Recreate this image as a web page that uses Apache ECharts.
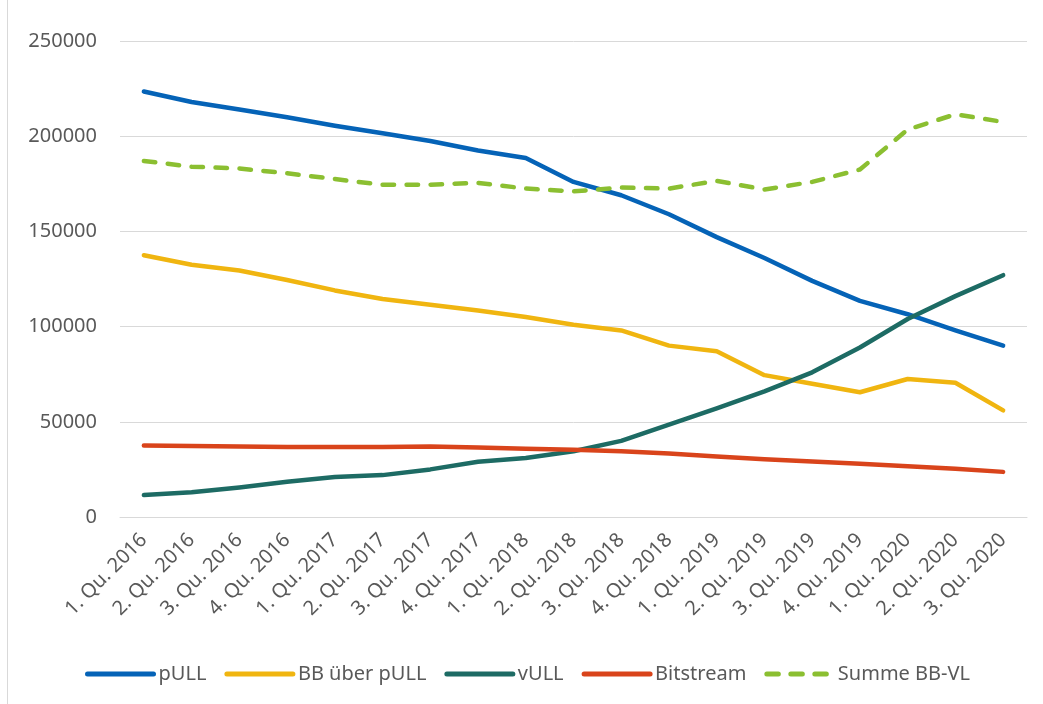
<!DOCTYPE html>
<html>
<head>
<meta charset="utf-8">
<script src="https://cdn.jsdelivr.net/npm/echarts@6/dist/echarts.min.js"></script>
<style>
html,body{margin:0;padding:0;background:#fff;}
body{position:relative;}
#chart{width:1043px;height:704px;}
#frame{position:absolute;left:7px;top:0;width:1px;height:704px;background:#d9d9d9;}
</style>
</head>
<body>
<div id="chart"></div>
<div id="frame"></div>
<script>
var quarters = ["1. Qu. 2016","2. Qu. 2016","3. Qu. 2016","4. Qu. 2016","1. Qu. 2017","2. Qu. 2017","3. Qu. 2017","4. Qu. 2017","1. Qu. 2018","2. Qu. 2018","3. Qu. 2018","4. Qu. 2018","1. Qu. 2019","2. Qu. 2019","3. Qu. 2019","4. Qu. 2019","1. Qu. 2020","2. Qu. 2020","3. Qu. 2020"];
var pULL = [223500,218000,214000,210000,205500,201500,197500,192500,188500,176000,169000,159000,147000,136000,124000,113500,106500,98000,90000];
var bbPULL = [137500,132500,129500,124500,119000,114500,111500,108500,105000,101000,98000,90000,87000,74500,70000,65500,72500,70500,56000];
var vULL = [11500,13000,15500,18500,21000,22000,25000,29000,31000,34500,40000,48500,57000,66000,76000,89000,104000,116000,127000];
var bitstream = [37500,37300,37000,36800,36800,36700,37000,36500,35800,35300,34500,33300,31800,30300,29200,28000,26700,25400,23700];
var summeBBVL = [187000,184000,183000,180500,177500,174500,174500,175500,172500,171000,173000,172500,176500,172000,176000,182500,203500,211500,207500];

var font = "Noto Sans";
var chart = echarts.init(document.getElementById("chart"));

function line(name, data, color, dashed){
	return {
		name: name, type: "line", data: data, symbol: "none",
		lineStyle: {color: color, width: 4.5, type: dashed ? [11.5,12.5] : "solid", cap: "round", join: "round"},
		itemStyle: {color: color}
	};
}

chart.setOption({
	animation: false,
	textStyle: {fontFamily: font},
	grid: {left: 120, right: 16, top: 41, bottom: 187},
	legend: {
		top: 659, left: 80, itemWidth: 66, itemHeight: 14, itemGap: 18,
		itemStyle: {opacity: 0},
		lineStyle: {width: 5, cap: "round"},
		textStyle: {color: "#595959", fontSize: 20, fontFamily: font},
		data: ["pULL","BB über pULL","vULL","Bitstream","Summe BB-VL"]
	},
	xAxis: {
		type: "category", data: quarters, boundaryGap: true,
		axisLine: {show: true, lineStyle: {color: "#d9d9d9", width: 1}},
		axisTick: {show: false},
		axisLabel: {rotate: 45, color: "#595959", fontSize: 20, margin: 20, interval: 0}
	},
	yAxis: {
		type: "value", min: 0, max: 250000, interval: 50000,
		axisLine: {show: false}, axisTick: {show: false},
		axisLabel: {color: "#595959", fontSize: 20, margin: 23, formatter: function(v){ return String(v); }},
		splitLine: {lineStyle: {color: "#d9d9d9", width: 1}}
	},
	series: [
		line("pULL", pULL, "#0563b7", false),
		line("BB über pULL", bbPULL, "#f0b510", false),
		line("vULL", vULL, "#1d6b64", false),
		line("Bitstream", bitstream, "#d9441b", false),
		line("Summe BB-VL", summeBBVL, "#8bbf31", true)
	]
});
</script>
</body>
</html>
